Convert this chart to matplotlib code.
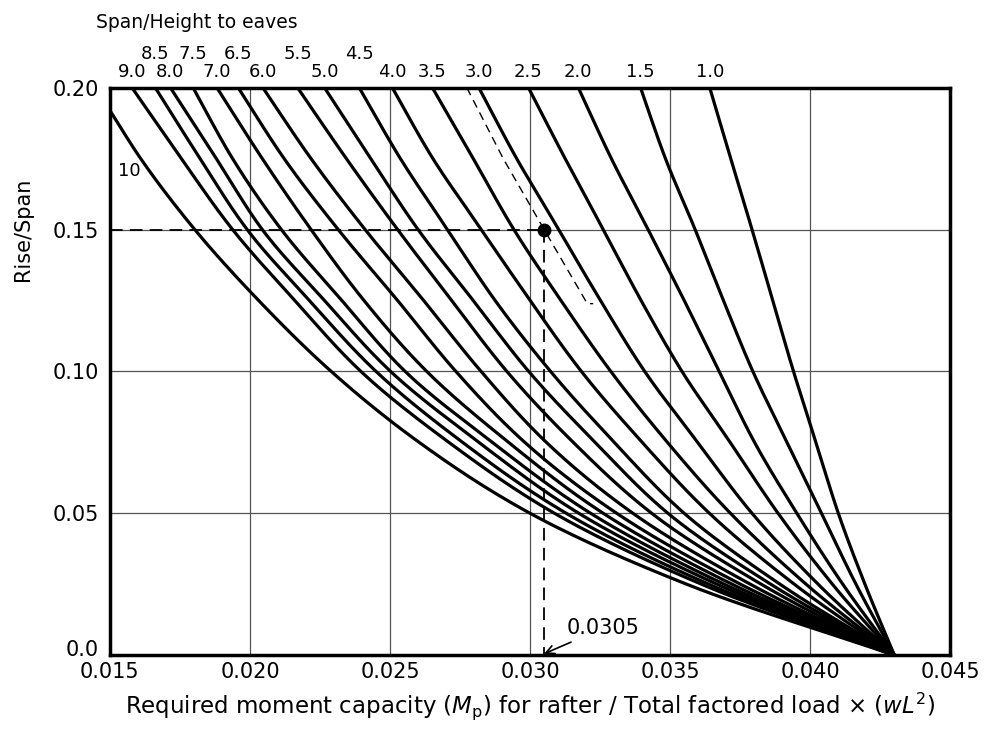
import numpy as np
import matplotlib.pyplot as plt
import matplotlib.transforms as mtransforms

# span/height-to-eaves ratio of each curve
ratios = ["10", "9.0", "8.5", "8.0", "7.5", "7.0", "6.5", "6.0", "5.5", "5.0",
          "4.5", "4.0", "3.5", "3.0", "2.5", "2.0", "1.5", "1.0"]

# rise/span levels where the curves were read
rise = [0.20, 0.175, 0.15, 0.125, 0.10, 0.075, 0.05, 0.025, 0.0]

# Mp/(wL^2) of each curve at each rise/span level (curve "10" starts on the left axis)
x_200 = [np.nan, 0.01579, 0.01662, 0.01716, 0.01797, 0.01882, 0.01958, 0.02046, 0.02170,
         0.02266, 0.02390, 0.02508, 0.02651, 0.02817, 0.02994, 0.03172, 0.03394, 0.03641]
x_175 = [0.01610, 0.01755, 0.01822, 0.01880, 0.01938, 0.02044, 0.02122, 0.02218, 0.02344,
         0.02431, 0.02537, 0.02653, 0.02797, 0.02952, 0.03125, 0.03290, 0.03483, 0.03716]
x_150 = [0.01803, 0.01938, 0.01990, 0.02044, 0.02112, 0.02218, 0.02315, 0.02411, 0.02527,
         0.02600, 0.02705, 0.02826, 0.02942, 0.03102, 0.03261, 0.03421, 0.03589, 0.03792]
x_125 = [0.02031, 0.02160, 0.02212, 0.02266, 0.02328, 0.02407, 0.02527, 0.02620, 0.02720,
         0.02797, 0.02875, 0.03000, 0.03110, 0.03251, 0.03396, 0.03550, 0.03690, 0.03866]
x_100 = [0.02290, 0.02396, 0.02450, 0.02502, 0.02554, 0.02631, 0.02735, 0.02825, 0.02917,
         0.02995, 0.03073, 0.03183, 0.03288, 0.03409, 0.03542, 0.03675, 0.03795, 0.03940]
x_075 = [0.02604, 0.02710, 0.02759, 0.02817, 0.02865, 0.02923, 0.02981, 0.03058, 0.03154,
         0.03232, 0.03300, 0.03400, 0.03490, 0.03598, 0.03714, 0.03801, 0.03917, 0.04020]
x_050 = [0.03000, 0.03087, 0.03129, 0.03174, 0.03216, 0.03261, 0.03309, 0.03367, 0.03434,
         0.03492, 0.03550, 0.03640, 0.03715, 0.03792, 0.03885, 0.03952, 0.04040, 0.04100]
x_025 = [0.03559, 0.03612, 0.03638, 0.03667, 0.03693, 0.03721, 0.03751, 0.03786, 0.03825,
         0.03859, 0.03892, 0.03943, 0.03985, 0.04028, 0.04079, 0.04116, 0.04163, 0.04195]
x_000 = [0.043] * 18

curve10_start = (0.015, 0.192)

# worked example: interpolated dashed curve and the read-off point
guide_x = [0.02774, 0.02904, 0.0305, 0.03204, 0.03225]
guide_y = [0.20, 0.175, 0.15, 0.1239, 0.1239]
point = (0.0305, 0.15)

top_row1 = ["8.5", "7.5", "6.5", "5.5", "4.5"]


def smooth_through(yk, xk, n=200):
    # monotone cubic (Fritsch-Carlson) curve through the read points, x as a function of y
    yk = np.asarray(yk, float)
    xk = np.asarray(xk, float)
    o = np.argsort(yk)
    yk, xk = yk[o], xk[o]
    h = np.diff(yk)
    d = np.diff(xk) / h
    m = np.empty_like(xk)
    m[0], m[-1] = d[0], d[-1]
    for k in range(1, len(xk) - 1):
        if d[k - 1] * d[k] > 0:
            w1, w2 = 2 * h[k] + h[k - 1], h[k] + 2 * h[k - 1]
            m[k] = (w1 + w2) / (w1 / d[k - 1] + w2 / d[k])
        else:
            m[k] = 0.0
    yq = np.linspace(yk[0], yk[-1], n)
    i = np.clip(np.searchsorted(yk, yq) - 1, 0, len(h) - 1)
    t = (yq - yk[i]) / h[i]
    h00 = 2 * t**3 - 3 * t**2 + 1
    h10 = t**3 - 2 * t**2 + t
    h01 = -2 * t**3 + 3 * t**2
    h11 = t**3 - t**2
    xq = h00 * xk[i] + h10 * h[i] * m[i] + h01 * xk[i + 1] + h11 * h[i] * m[i + 1]
    return xq, yq


plt.rcParams["font.family"] = "DejaVu Sans"
fig = plt.figure(figsize=(9.9, 7.37), dpi=100)
ax = fig.add_axes([0.111, 0.111, 0.849, 0.770])

table = np.array([x_200, x_175, x_150, x_125, x_100, x_075, x_050, x_025, x_000])
for i, r in enumerate(ratios):
    xs = table[:, i]
    ys = np.array(rise)
    if r == "10":
        xs = np.concatenate([[curve10_start[0]], xs[1:]])
        ys = np.concatenate([[curve10_start[1]], ys[1:]])
    cx, cy = smooth_through(ys, xs)
    ax.plot(cx, cy, color="black", lw=2.3, solid_capstyle="butt", zorder=3)

# top labels
for i, r in enumerate(ratios):
    if r == "10":
        continue
    yy = 1.044 if r in top_row1 else 1.012
    ax.text(x_200[i], yy, r, transform=ax.get_xaxis_transform(), ha="center",
            va="bottom", fontsize=13)
ax.text(0.01571, 0.1708, "10", fontsize=13, ha="center", va="center")
ax.text(-0.016, 1.098, "Span/Height to eaves", transform=ax.transAxes, fontsize=13.5,
        ha="left", va="bottom")

# worked example
ax.plot(guide_x, guide_y, color="black", lw=1.0, ls=(0, (6, 4)), zorder=3)
ax.plot([0.015, point[0]], [point[1], point[1]], color="black", lw=1.3,
        ls=(0, (7, 4)), zorder=3)
ax.plot([point[0], point[0]], [point[1], 0.0], color="black", lw=1.3,
        ls=(0, (7, 4)), zorder=3)
ax.plot(*point, "o", color="black", ms=9, zorder=4)
ax.annotate("0.0305", xy=(point[0], 0.0005), xytext=(0.0313, 0.0095),
            fontsize=15, va="center", ha="left",
            arrowprops=dict(arrowstyle="->", color="black", lw=1.2,
                            shrinkA=2, shrinkB=0))

ax.set_xlim(0.015, 0.045)
ax.set_ylim(0.0, 0.20)
ax.set_xticks([0.015, 0.020, 0.025, 0.030, 0.035, 0.040, 0.045])
ax.set_xticklabels(["0.015", "0.020", "0.025", "0.030", "0.035", "0.040", "0.045"])
ax.set_yticks([0.0, 0.05, 0.10, 0.15, 0.20])
ax.set_yticklabels(["0.0", "0.05", "0.10", "0.15", "0.20"])
ax.tick_params(length=0, labelsize=15)
ax.tick_params(axis="x", pad=5)
ax.tick_params(axis="y", pad=8)
# the "0.0" label sits a little higher than its tick, as in the original
lab0 = ax.get_yticklabels()[0]
lab0.set_transform(lab0.get_transform() +
                   mtransforms.ScaledTranslation(0, 5 / 72, fig.dpi_scale_trans))
ax.grid(True, color="#555555", lw=0.9)
ax.set_axisbelow(True)
for s in ax.spines.values():
    s.set_linewidth(2.5)

ax.set_xlabel(r"Required moment capacity ($M_{\rm p}$) for rafter / Total factored load $\times$ ($wL^2$)",
              fontsize=16.5, labelpad=6)
ax.set_ylabel("Rise/Span", fontsize=15)
ax.yaxis.set_label_coords(-0.092, 0.75)

fig.savefig("out.png", dpi=100)
